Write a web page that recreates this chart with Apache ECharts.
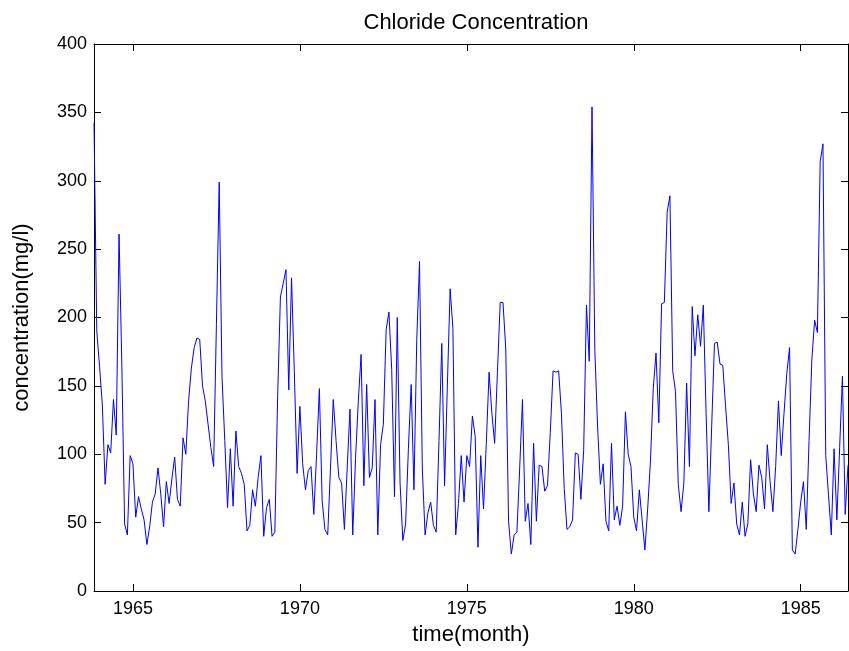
<!DOCTYPE html>
<html>
<head>
<meta charset="utf-8">
<script src="https://cdn.jsdelivr.net/npm/echarts@6/dist/echarts.min.js"></script>
<style>html,body{margin:0;padding:0;background:#fff}#c{width:849px;height:651px}</style>
</head>
<body>
<div id="c"></div>
<script>
// Monthly chloride concentration (mg/l)
const startYear = 1963;
const startMonth = 10; // month offset of the first sample within startYear
const values = [
342,190,164,136,78,107,101,140,114,261,166,49,41,99,93,54,69,60,52,34,
47,65,71,90,71,47,80,64,82,98,67,62,112,100,139,163,178,185,184,150,
139,122,105,91,195,299,157,110,61,104,62,117,91,86,78,44,48,74,62,83,
99,40,61,67,40,43,142,215,225,235,147,229,160,86,135,93,74,88,91,56,
100,148,66,45,41,90,140,110,83,79,45,90,133,41,97,139,173,77,151,83,
90,140,41,107,122,191,204,162,69,200,79,37,49,104,151,74,183,241,90,41,
57,65,48,43,110,181,77,150,221,192,41,64,99,65,99,91,128,113,32,99,
60,108,160,130,108,160,211,211,177,51,27,41,43,90,140,51,64,34,108,51,
92,91,73,77,116,161,160,161,130,75,45,47,52,101,100,67,103,209,168,354,
177,120,78,93,51,44,108,52,62,48,62,131,100,91,54,44,74,52,30,60,
95,148,174,123,210,211,277,289,161,146,78,58,79,152,91,208,172,202,179,209,
130,58,120,181,182,166,165,135,107,64,79,49,41,65,40,49,96,71,58,92,
83,60,107,80,58,91,139,99,130,159,178,30,27,45,65,80,45,110,169,198,
189,314,327,99,70,41,104,52,105,157,56,92
];
const xTicks = [1965, 1970, 1975, 1980, 1985];
const yMin = 0, yMax = 400, yStep = 50;
const titleText = 'Chloride Concentration';
const xName = 'time(month)';
const yName = 'concentration(mg/l)';

const times = values.map((v, i) => startYear + (startMonth + i) / 12);
const seriesData = values.map((v, i) => [times[i], v]);
const xMin = times[0], xMax = times[times.length - 1];

const FONT = 'Liberation Sans, Arial, Helvetica, sans-serif';
const chart = echarts.init(document.getElementById('c'), null, {renderer: 'canvas'});
const axisLine = {show: true, onZero: false, lineStyle: {color: '#000', width: 1}};
chart.setOption({
  animation: false,
  backgroundColor: '#fff',
  title: {
    text: titleText, left: 471, top: 7, textAlign: 'center',
    textStyle: {fontFamily: FONT, fontSize: 22, fontWeight: 'normal', color: '#000'}
  },
  grid: {left: 94, right: 1, top: 44, bottom: 60, containLabel: false},
  xAxis: [{
    type: 'value', min: xMin, max: xMax, position: 'bottom',
    axisLine: axisLine,
    axisTick: {show: true, inside: true, length: 7, customValues: xTicks, lineStyle: {color: '#000'}},
    axisLabel: {show: true, customValues: xTicks, margin: 9, fontFamily: FONT, fontSize: 18, color: '#000', formatter: v => String(v)},
    splitLine: {show: false},
    name: xName, nameLocation: 'middle', nameGap: 33,
    nameTextStyle: {fontFamily: FONT, fontSize: 22, color: '#000'}
  }, {
    type: 'value', min: xMin, max: xMax, position: 'top',
    axisLine: axisLine,
    axisTick: {show: true, inside: true, length: 7, customValues: xTicks, lineStyle: {color: '#000'}},
    axisLabel: {show: false},
    splitLine: {show: false}
  }],
  yAxis: [{
    type: 'value', min: yMin, max: yMax, interval: yStep, position: 'left',
    axisLine: axisLine,
    axisTick: {show: true, inside: true, length: 7, lineStyle: {color: '#000'}},
    axisLabel: {show: true, margin: 7, fontFamily: FONT, fontSize: 18, color: '#000'},
    splitLine: {show: false},
    name: yName, nameLocation: 'middle', nameRotate: 90, nameGap: 61,
    nameTextStyle: {fontFamily: FONT, fontSize: 22, color: '#000'}
  }, {
    type: 'value', min: yMin, max: yMax, interval: yStep, position: 'right',
    axisLine: axisLine,
    axisTick: {show: true, inside: true, length: 7, lineStyle: {color: '#000'}},
    axisLabel: {show: false},
    splitLine: {show: false}
  }],
  series: [{
    type: 'line', data: seriesData, xAxisIndex: 0, yAxisIndex: 0,
    showSymbol: false, symbol: 'none',
    lineStyle: {color: '#0000ff', width: 1},
    itemStyle: {color: '#0000ff'},
    silent: true
  }]
});
</script>
</body>
</html>
